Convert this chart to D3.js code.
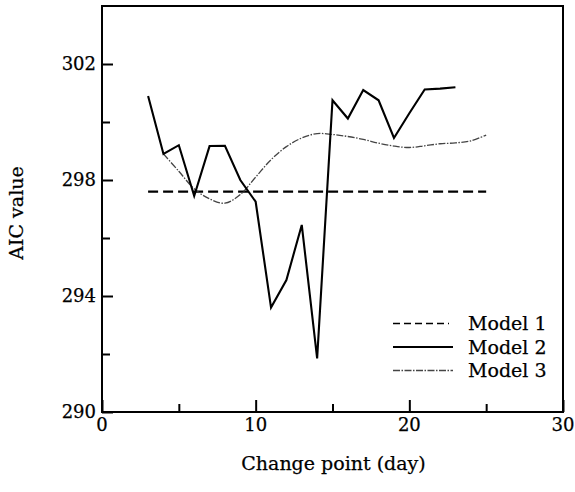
<!DOCTYPE html>
<html>
<head>
<meta charset="utf-8">
<script src="https://cdn.jsdelivr.net/npm/d3@7"></script>
<style>
  body { margin: 0; background: #fff; }
  svg text { font-family: "DejaVu Serif", serif; fill: #000; stroke: #000; stroke-width: 0.25px; }
</style>
</head>
<body>
<div id="chart"></div>
<script>
const width = 575,
height = 492;

let margin = {top: 6, right: 12, bottom: 80, left: 102}

// change point (day) for each model
const days1 = [3, 25]
const aic1 = [297.6, 297.6]

const days2 = [3, 4, 5, 6, 7, 8, 9, 10, 11, 12, 13, 14, 15, 16, 17, 18, 19, 20, 21, 22, 23]
const aic2 = [300.9, 298.9, 299.2, 297.45, 299.17, 299.18, 298.0, 297.25, 293.6, 294.55, 296.45, 291.85,
  300.75, 300.12, 301.1, 300.75, 299.45, 300.3, 301.12, 301.15, 301.2]

const days3 = [4, 5, 6, 7, 8, 9, 10, 11, 12, 13, 14, 15, 16, 17, 18, 19, 20, 21, 22, 23, 24, 25]
const aic3 = [298.9, 298.3, 297.7, 297.35, 297.2, 297.5, 298.1, 298.7, 299.15, 299.45, 299.6, 299.57,
  299.5, 299.4, 299.27, 299.17, 299.12, 299.18, 299.25, 299.28, 299.35, 299.55]

const xTicks = [0, 10, 20, 30],
xMinor = [5, 15, 25],
yTicks = [290, 294, 298, 302],
yMinor = [292, 296, 300];

const legendNames = ["Model 1", "Model 2", "Model 3"]

var x = d3.scaleLinear().domain([0, 30]).range([margin.left, width - margin.right])
var y = d3.scaleLinear().domain([290, 304]).range([height - margin.bottom, margin.top])

let svg = d3.select("#chart").append("svg")
  .attr("width", width)
  .attr("height", height)

// line styles per model
const styles = [
  {width: 2.3, dash: "10,5", color: "#000"},
  {width: 2.1, dash: null, color: "#000"},
  {width: 1.3, dash: "7,1.5,1.5,1.5", color: "#444"}
]

function series(days, vals) {
  return days.map(function(d, i){ return [d, vals[i]] })
}

let line = d3.line().x(d => x(d[0])).y(d => y(d[1]))
let smooth = d3.line().x(d => x(d[0])).y(d => y(d[1])).curve(d3.curveCatmullRom)

svg.append("path")
  .datum(series(days1, aic1))
  .attr("d", line)
  .attr("fill", "none")
  .attr("stroke", styles[0].color)
  .attr("stroke-width", styles[0].width)
  .attr("stroke-dasharray", styles[0].dash)

svg.append("path")
  .datum(series(days3, aic3))
  .attr("d", smooth)
  .attr("fill", "none")
  .attr("stroke", styles[2].color)
  .attr("stroke-width", styles[2].width)
  .attr("stroke-dasharray", styles[2].dash)

svg.append("path")
  .datum(series(days2, aic2))
  .attr("d", line)
  .attr("fill", "none")
  .attr("stroke", styles[1].color)
  .attr("stroke-width", styles[1].width)
  .attr("stroke-linejoin", "miter")

// frame
svg.append("rect")
  .attr("x", x(0))
  .attr("y", y(304))
  .attr("width", x(30) - x(0))
  .attr("height", y(290) - y(304))
  .attr("fill", "none")
  .attr("stroke", "#000")
  .attr("stroke-width", 2)

// axes, ticks pointing inward
let xAxis = svg.append("g")
  .attr("transform", "translate(0," + y(290) + ")")
  .call(d3.axisTop(x).tickValues(xTicks).tickSize(12).tickFormat(""))
xAxis.select(".domain").remove()
xAxis.selectAll("line").attr("stroke", "#000").attr("stroke-width", 2)

svg.append("g")
  .attr("transform", "translate(0," + y(290) + ")")
  .call(d3.axisTop(x).tickValues(xMinor).tickSize(8).tickFormat(""))
  .call(g => g.select(".domain").remove())
  .selectAll("line").attr("stroke", "#000").attr("stroke-width", 2)

svg.selectAll(".xlab")
  .data(xTicks)
  .join("text")
  .attr("class", "xlab")
  .attr("x", d => x(d))
  .attr("y", y(290) + 19)
  .attr("text-anchor", "middle")
  .attr("font-size", 18)
  .text(d => d)

let yAxis = svg.append("g")
  .attr("transform", "translate(" + x(0) + ",0)")
  .call(d3.axisRight(y).tickValues(yTicks).tickSize(11).tickFormat(""))
yAxis.select(".domain").remove()
yAxis.selectAll("line").attr("stroke", "#000").attr("stroke-width", 2)

svg.append("g")
  .attr("transform", "translate(" + x(0) + ",0)")
  .call(d3.axisRight(y).tickValues(yMinor).tickSize(8).tickFormat(""))
  .call(g => g.select(".domain").remove())
  .selectAll("line").attr("stroke", "#000").attr("stroke-width", 2)

svg.selectAll(".ylab")
  .data(yTicks)
  .join("text")
  .attr("class", "ylab")
  .attr("x", x(0) - 6)
  .attr("y", d => y(d))
  .attr("dy", "0.36em")
  .attr("text-anchor", "end")
  .attr("font-size", 18)
  .text(d => d)

// axis titles
svg.append("text")
  .attr("x", (x(0) + x(30)) / 2 + 1)
  .attr("y", 470)
  .attr("text-anchor", "middle")
  .attr("font-size", 19)
  .text("Change point (day)")

svg.append("text")
  .attr("transform", "translate(23," + 213 + ") rotate(-90)")
  .attr("text-anchor", "middle")
  .attr("font-size", 19)
  .text("AIC value")

// legend
let legend = svg.selectAll(".legend")
  .data(legendNames)
  .join("g")
  .attr("class", "legend")
  .attr("transform", (d, i) => "translate(393," + (323.5 + i * 23.5) + ")")

legend.append("line")
  .attr("x1", 0)
  .attr("x2", (d, i) => i == 0 ? 56 : 60)
  .attr("stroke", (d, i) => styles[i].color)
  .attr("stroke-width", (d, i) => i == 0 ? 1.5 : styles[i].width)
  .attr("stroke-dasharray", (d, i) => i == 0 ? "7,4" : styles[i].dash)

legend.append("text")
  .attr("x", 75)
  .attr("dy", "0.35em")
  .attr("font-size", 19)
  .text(d => d)
</script>
</body>
</html>
